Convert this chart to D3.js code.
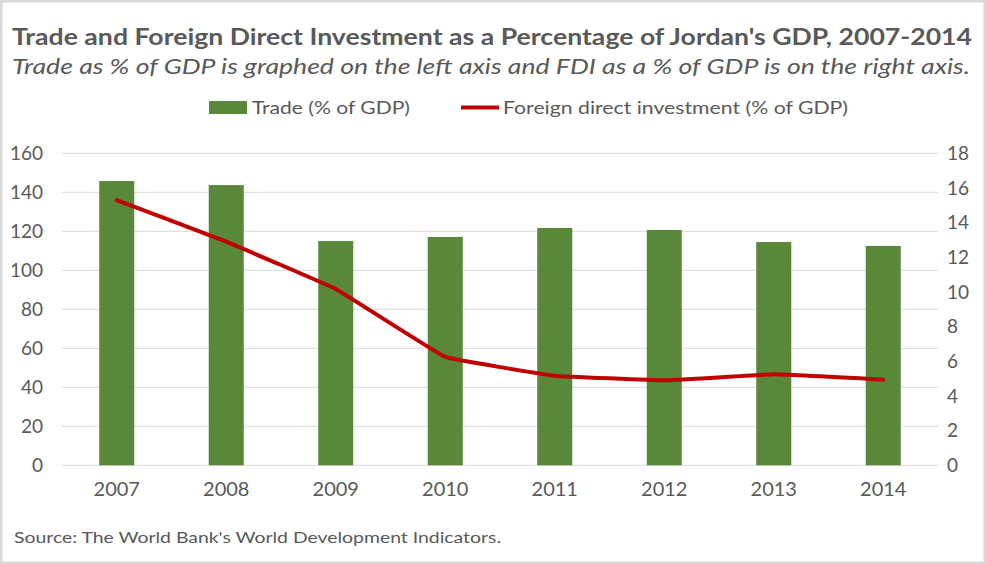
<!DOCTYPE html>
<html>
<head>
<meta charset="utf-8">
<script src="https://cdn.jsdelivr.net/npm/d3@7"></script>
<style>
  body { margin: 0; background: #fff; }
  svg { display: block; font-family: Lato, "Open Sans", sans-serif; }
</style>
</head>
<body>
<svg width="986" height="564"></svg>
<script>
var years = ["2007", "2008", "2009", "2010", "2011", "2012", "2013", "2014"];
var trade = [145.8, 143.7, 115.0, 117.1, 121.7, 120.7, 114.5, 112.5];
var fdi = [15.3, 12.9, 10.17, 6.25, 5.17, 4.9, 5.25, 4.94];
var leftTicks = [0, 20, 40, 60, 80, 100, 120, 140, 160];
var rightTicks = [0, 2, 4, 6, 8, 10, 12, 14, 16, 18];

var svg = d3.select("svg"),
    width = +svg.attr("width"),
    height = +svg.attr("height");
var grey = "#595959";

svg.append("rect")
    .attr("x", 1).attr("y", 1)
    .attr("width", width - 2).attr("height", height - 2)
    .attr("fill", "#fff")
    .attr("stroke", "#d9d9d9")
    .attr("stroke-width", 3);

var x = d3.scaleBand().domain(years).range([62, 938]).paddingInner(0.68).paddingOuter(0.34);
var yL = d3.scaleLinear().domain([0, 160]).range([465.3, 153.3]);
var yR = d3.scaleLinear().domain([0, 18]).range([465.3, 153.3]);

// gridlines
svg.append("g")
    .selectAll("line")
    .data(leftTicks)
    .enter().append("line")
    .attr("x1", 62).attr("x2", 938)
    .attr("y1", function(d) { return yL(d); })
    .attr("y2", function(d) { return yL(d); })
    .attr("stroke", "#d9d9d9")
    .attr("stroke-width", 1);

// axes
var leftAxis = svg.append("g")
    .attr("transform", "translate(43,0)")
    .call(d3.axisLeft(yL).tickValues(leftTicks).tickSize(0).tickPadding(0));
var rightAxis = svg.append("g")
    .attr("transform", "translate(947,0)")
    .call(d3.axisRight(yR).tickValues(rightTicks).tickSize(0).tickPadding(0));
var bottomAxis = svg.append("g")
    .attr("transform", "translate(0,470)")
    .call(d3.axisBottom(x).tickSize(0).tickPadding(12));

[leftAxis, rightAxis, bottomAxis].forEach(function(a) {
    a.select(".domain").remove();
    a.selectAll("text")
        .attr("fill", grey)
        .style("font-size", "19px")
        .style("font-family", "Lato, 'Open Sans', sans-serif");
});
bottomAxis.selectAll("text").style("font-size", "20px");

// bars
svg.append("g")
    .selectAll("rect")
    .data(trade)
    .enter().append("rect")
    .attr("x", function(d, i) { return x(years[i]); })
    .attr("width", x.bandwidth())
    .attr("y", function(d) { return yL(d); })
    .attr("height", function(d) { return yL(0) - yL(d); })
    .attr("fill", "#5a883a");

// FDI line
var line = d3.line()
    .x(function(d, i) { return x(years[i]) + x.bandwidth() / 2; })
    .y(function(d) { return yR(d); })
    .curve(d3.curveCardinal.tension(0.8));

svg.append("path")
    .datum(fdi)
    .attr("d", line)
    .attr("fill", "none")
    .attr("stroke", "#c00000")
    .attr("stroke-width", 4)
    .attr("stroke-linejoin", "round")
    .attr("stroke-linecap", "round");

// titles
svg.append("text")
    .attr("x", 12).attr("y", 45)
    .attr("textLength", 960).attr("lengthAdjust", "spacingAndGlyphs")
    .attr("fill", grey)
    .style("font-size", "23px")
    .style("font-weight", "bold")
    .text("Trade and Foreign Direct Investment as a Percentage of Jordan's GDP, 2007-2014");

svg.append("text")
    .attr("x", 12).attr("y", 74)
    .attr("textLength", 958).attr("lengthAdjust", "spacingAndGlyphs")
    .attr("fill", grey)
    .style("font-size", "22px")
    .style("font-style", "italic")
    .text("Trade as % of GDP is graphed on the left axis and FDI as a % of GDP is on the right axis.");

// legend
var legend = svg.append("g");
legend.append("rect")
    .attr("x", 209).attr("y", 101).attr("width", 38).attr("height", 13)
    .attr("fill", "#5a883a");
legend.append("text")
    .attr("x", 252).attr("y", 114)
    .attr("textLength", 158).attr("lengthAdjust", "spacingAndGlyphs")
    .attr("fill", grey).style("font-size", "18px")
    .text("Trade (% of GDP)");
legend.append("line")
    .attr("x1", 461).attr("x2", 499).attr("y1", 107.5).attr("y2", 107.5)
    .attr("stroke", "#c00000").attr("stroke-width", 4);
legend.append("text")
    .attr("x", 503).attr("y", 114)
    .attr("textLength", 345).attr("lengthAdjust", "spacingAndGlyphs")
    .attr("fill", grey).style("font-size", "18px")
    .text("Foreign direct investment (% of GDP)");

// source
svg.append("text")
    .attr("x", 14).attr("y", 543)
    .attr("textLength", 487).attr("lengthAdjust", "spacingAndGlyphs")
    .attr("fill", grey).style("font-size", "16px")
    .text("Source: The World Bank's World Development Indicators.");
</script>
</body>
</html>
